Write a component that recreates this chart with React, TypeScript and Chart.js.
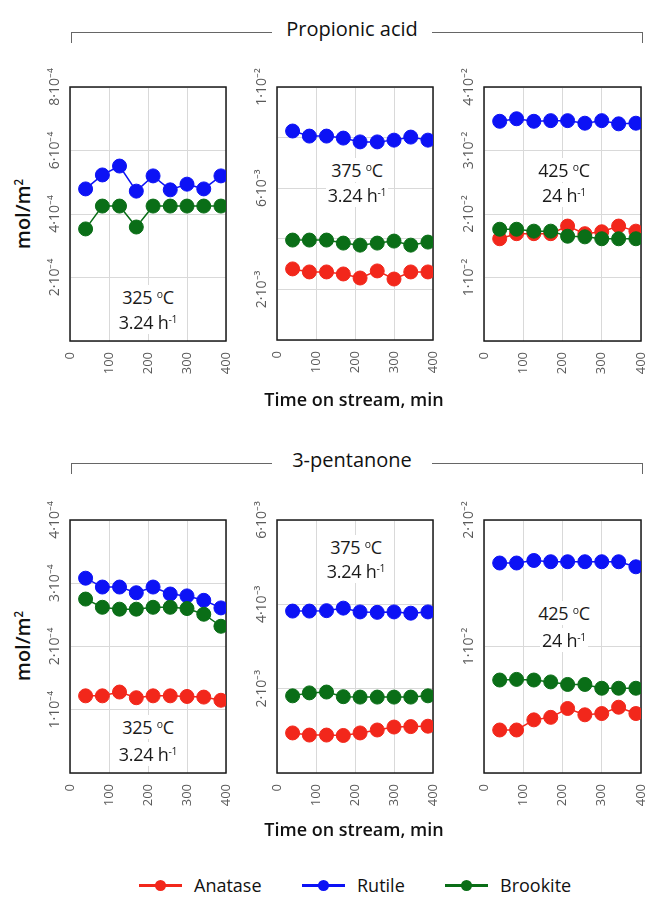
import React, { useEffect, useRef } from 'react';
import { Chart, registerables } from 'chart.js';
Chart.register(...registerables);

// ---------- DATA ----------
const TIMES = [40, 83, 127, 170, 213, 257, 300, 343, 387];
const X_TICKS = [0, 100, 200, 300, 400];
const SERIES = ['Anatase', 'Rutile', 'Brookite'];

// Propionic acid
const PA325_RUTILE = [4.79e-4, 5.23e-4, 5.51e-4, 4.72e-4, 5.2e-4, 4.76e-4, 4.94e-4, 4.79e-4, 5.2e-4];
const PA325_BROOKITE = [3.53e-4, 4.25e-4, 4.25e-4, 3.59e-4, 4.25e-4, 4.25e-4, 4.25e-4, 4.25e-4, 4.25e-4];
const PA375_ANATASE = [2.81e-3, 2.69e-3, 2.69e-3, 2.61e-3, 2.45e-3, 2.73e-3, 2.41e-3, 2.69e-3, 2.69e-3];
const PA375_RUTILE = [8.26e-3, 8.06e-3, 8.06e-3, 7.98e-3, 7.83e-3, 7.83e-3, 7.9e-3, 8.02e-3, 7.9e-3];
const PA375_BROOKITE = [3.95e-3, 3.95e-3, 3.95e-3, 3.83e-3, 3.75e-3, 3.83e-3, 3.91e-3, 3.75e-3, 3.87e-3];
const PA425_ANATASE = [1.61e-2, 1.69e-2, 1.69e-2, 1.69e-2, 1.81e-2, 1.69e-2, 1.72e-2, 1.81e-2, 1.73e-2];
const PA425_RUTILE = [3.46e-2, 3.5e-2, 3.46e-2, 3.47e-2, 3.47e-2, 3.43e-2, 3.47e-2, 3.42e-2, 3.43e-2];
const PA425_BROOKITE = [1.76e-2, 1.76e-2, 1.73e-2, 1.73e-2, 1.65e-2, 1.64e-2, 1.61e-2, 1.61e-2, 1.61e-2];

// 3-pentanone
const PN325_ANATASE = [1.22e-4, 1.22e-4, 1.28e-4, 1.19e-4, 1.22e-4, 1.22e-4, 1.21e-4, 1.2e-4, 1.15e-4];
const PN325_RUTILE = [3.08e-4, 2.94e-4, 2.94e-4, 2.85e-4, 2.94e-4, 2.83e-4, 2.8e-4, 2.73e-4, 2.61e-4];
const PN325_BROOKITE = [2.75e-4, 2.62e-4, 2.59e-4, 2.59e-4, 2.62e-4, 2.62e-4, 2.6e-4, 2.51e-4, 2.32e-4];
const PN375_ANATASE = [0.95e-3, 0.9e-3, 0.9e-3, 0.89e-3, 0.95e-3, 1.02e-3, 1.09e-3, 1.1e-3, 1.11e-3];
const PN375_RUTILE = [3.84e-3, 3.84e-3, 3.85e-3, 3.91e-3, 3.82e-3, 3.81e-3, 3.82e-3, 3.79e-3, 3.82e-3];
const PN375_BROOKITE = [1.83e-3, 1.9e-3, 1.92e-3, 1.81e-3, 1.8e-3, 1.8e-3, 1.8e-3, 1.8e-3, 1.83e-3];
const PN425_ANATASE = [0.34e-2, 0.34e-2, 0.42e-2, 0.44e-2, 0.51e-2, 0.46e-2, 0.47e-2, 0.52e-2, 0.47e-2];
const PN425_RUTILE = [1.66e-2, 1.66e-2, 1.68e-2, 1.67e-2, 1.67e-2, 1.67e-2, 1.67e-2, 1.67e-2, 1.63e-2];
const PN425_BROOKITE = [0.735e-2, 0.74e-2, 0.735e-2, 0.72e-2, 0.7e-2, 0.7e-2, 0.67e-2, 0.67e-2, 0.67e-2];

// y-axis tick labels (index = tick from 0 upward)
const PA325_Y = ['', '2·10⁻⁴', '4·10⁻⁴', '6·10⁻⁴', '8·10⁻⁴'];
const PA375_Y = ['', '2·10⁻³', '', '6·10⁻³', '', '1·10⁻²'];
const PA425_Y = ['', '1·10⁻²', '2·10⁻²', '3·10⁻²', '4·10⁻²'];
const PN325_Y = ['', '1·10⁻⁴', '2·10⁻⁴', '3·10⁻⁴', '4·10⁻⁴'];
const PN375_Y = ['', '2·10⁻³', '4·10⁻³', '6·10⁻³'];
const PN425_Y = ['', '1·10⁻²', '2·10⁻²'];

const TEMPS = ['325', '375', '425'];
const GHSV = ['3.24', '3.24', '24'];
const TITLES = ['Propionic acid', '3-pentanone'];

// ---------- STYLE ----------
const COLORS = ['#f2271b', '#0c12f5', '#0a6e17'];
const ORDER = [1, 2, 0];
const X_TICK_FONT = { family: '"Open Sans"', size: 13 };
const Y_TICK_FONT = { family: '"Open Sans"', size: 14 };
const TICK_COLOR = '#5a5a5a';
const GRID_COLOR = '#d9d9d9';

const PADL = 45, PADT = 25, PADR = 6, PADB = 42;

const framePlugin = {
  id: 'frame',
  beforeDatasetsDraw(chart: any) {
    const { ctx, chartArea } = chart;
    ctx.save();
    ctx.strokeStyle = '#1a1a1a';
    ctx.lineWidth = 1.5;
    ctx.strokeRect(chartArea.left, chartArea.top, chartArea.right - chartArea.left, chartArea.bottom - chartArea.top);
    ctx.restore();
  },
};

type PanelProps = {
  box: { l: number; t: number; w: number; h: number };
  series: (number[] | null)[];
  yMax: number;
  yStep: number;
  yLabels: string[];
};

function Panel({ box, series, yMax, yStep, yLabels }: PanelProps) {
  const ref = useRef<HTMLCanvasElement>(null);
  const cw = PADL + box.w + PADR;
  const ch = PADT + box.h + PADB;
  useEffect(() => {
    const canvas = ref.current!;
    const mctx = canvas.getContext('2d')!;
    mctx.font = `normal ${Y_TICK_FONT.size}px ${Y_TICK_FONT.family}`;
    const widest = Math.max(...yLabels.map((s) => mctx.measureText(s).width));
    const datasets = series
      .map((vals, k) =>
        vals
          ? {
              label: SERIES[k],
              data: vals.map((v, i) => ({ x: TIMES[i], y: v })),
              borderColor: COLORS[k],
              backgroundColor: COLORS[k],
              pointBackgroundColor: COLORS[k],
              pointBorderColor: COLORS[k],
              pointBorderWidth: 1,
              pointRadius: 7,
              borderWidth: 1.5,
              order: ORDER[k],
              tension: 0,
            }
          : null
      )
      .filter(Boolean) as any[];
    const chart = new Chart(canvas, {
      type: 'line',
      data: { datasets },
      options: {
        animation: false,
        responsive: false,
        events: [],
        layout: { padding: { top: PADT, right: PADR, left: 0, bottom: 0 } },
        plugins: { legend: { display: false }, tooltip: { enabled: false } },
        scales: {
          x: {
            type: 'linear',
            min: 0,
            max: 400,
            afterBuildTicks: (s: any) => {
              s.ticks = X_TICKS.map((v) => ({ value: v }));
            },
            afterFit: (s: any) => {
              s.height = PADB;
              s.paddingLeft = 0;
              s.paddingRight = 0;
            },
            ticks: { autoSkip: false, minRotation: 90, maxRotation: 90, padding: 11, color: TICK_COLOR, font: X_TICK_FONT },
            grid: { drawTicks: false, color: GRID_COLOR, lineWidth: 1 },
            border: { display: false },
          },
          y: {
            type: 'linear',
            min: 0,
            max: yMax,
            afterFit: (s: any) => {
              s.width = PADL;
              s.paddingTop = 0;
              s.paddingBottom = 0;
            },
            ticks: {
              stepSize: yStep,
              autoSkip: false,
              minRotation: 90,
              maxRotation: 90,
              crossAlign: 'center',
              padding: 15 - widest / 2,
              color: TICK_COLOR,
              font: Y_TICK_FONT,
              callback: (_v: any, i: number) => yLabels[i] ?? '',
            },
            grid: { drawTicks: false, color: GRID_COLOR, lineWidth: 1 },
            border: { display: false },
          },
        },
      },
      plugins: [framePlugin],
    } as any);
    return () => chart.destroy();
  }, []);
  return (
    <canvas
      ref={ref}
      width={cw}
      height={ch}
      style={{ position: 'absolute', left: box.l - PADL, top: box.t - PADT, width: cw, height: ch }}
    />
  );
}

const Sup = ({ children }: { children: React.ReactNode }) => (
  <span style={{ fontSize: '0.58em', position: 'relative', top: '-0.62em' }}>{children}</span>
);

function Annot({ cx, cy1, cy2, temp, ghsv }: { cx: number; cy1: number; cy2: number; temp: string; ghsv: string }) {
  const line: React.CSSProperties = {
    position: 'absolute',
    left: cx - 60,
    width: 120,
    textAlign: 'center',
    fontSize: 18,
    lineHeight: '22px',
    height: 22,
    color: '#1a1a1a',
    letterSpacing: '-0.3px',
  };
  const bg: React.CSSProperties = { background: 'white', padding: '0 2px' };
  return (
    <>
      <div style={{ ...line, top: cy1 - 11 }}>
        <span style={bg}>
          {temp} <Sup>o</Sup>C
        </span>
      </div>
      <div style={{ ...line, top: cy2 - 11 }}>
        <span style={bg}>
          {ghsv} h<Sup>-1</Sup>
        </span>
      </div>
    </>
  );
}

function Bracket({ y, title }: { y: number; title: string }) {
  return (
    <>
      <div
        style={{
          position: 'absolute',
          left: 71,
          top: y,
          width: 570,
          height: 10,
          borderTop: '1px solid #666',
          borderLeft: '1px solid #666',
          borderRight: '1px solid #666',
        }}
      />
      <div
        style={{
          position: 'absolute',
          left: 272,
          top: y - 18,
          width: 160,
          height: 30,
          lineHeight: '30px',
          textAlign: 'center',
          fontSize: 20,
          color: '#111',
          background: 'white',
        }}
      >
        {title}
      </div>
    </>
  );
}

function YTitle({ cx, cy }: { cx: number; cy: number }) {
  return (
    <div
      style={{
        position: 'absolute',
        left: cx - 50,
        top: cy - 13,
        width: 100,
        height: 26,
        lineHeight: '26px',
        textAlign: 'center',
        fontSize: 20,
        fontWeight: 600,
        color: '#111',
        transform: 'rotate(-90deg)',
      }}
    >
      mol/m<Sup>2</Sup>
    </div>
  );
}

function XTitle({ cy }: { cy: number }) {
  return (
    <div
      style={{
        position: 'absolute',
        left: 244,
        top: cy - 13,
        width: 220,
        height: 26,
        lineHeight: '26px',
        textAlign: 'center',
        fontSize: 18,
        fontWeight: 600,
        color: '#111',
      }}
    >
      Time on stream, min
    </div>
  );
}

function LegendItem({ x, color, label }: { x: number; color: string; label: string }) {
  return (
    <>
      <div style={{ position: 'absolute', left: x, top: 884, width: 43, height: 3, background: color }} />
      <div
        style={{ position: 'absolute', left: x + 16, top: 880, width: 11, height: 11, borderRadius: 6, background: color }}
      />
      <div style={{ position: 'absolute', left: x + 55, top: 873, height: 24, lineHeight: '24px', fontSize: 18, color: '#111' }}>
        {label}
      </div>
    </>
  );
}

export default function App() {
  const boxes = [
    { l: 70, t: 87, w: 158, h: 254 },
    { l: 277, t: 87, w: 158, h: 253 },
    { l: 484, t: 87, w: 159, h: 254 },
    { l: 70, t: 520, w: 158, h: 253 },
    { l: 277, t: 520, w: 158, h: 253 },
    { l: 484, t: 520, w: 159, h: 253 },
  ];
  return (
    <div
      style={{
        position: 'absolute',
        left: 0,
        top: 0,
        width: 649,
        height: 899,
        background: 'white',
        fontFamily: '"Open Sans", sans-serif',
        overflow: 'hidden',
      }}
    >
      <Bracket y={32} title={TITLES[0]} />
      <Bracket y={463} title={TITLES[1]} />
      <YTitle cx={23} cy={214} />
      <YTitle cx={23} cy={646} />
      <Panel box={boxes[0]} series={[null, PA325_RUTILE, PA325_BROOKITE]} yMax={8e-4} yStep={2e-4} yLabels={PA325_Y} />
      <Panel box={boxes[1]} series={[PA375_ANATASE, PA375_RUTILE, PA375_BROOKITE]} yMax={1e-2} yStep={2e-3} yLabels={PA375_Y} />
      <Panel box={boxes[2]} series={[PA425_ANATASE, PA425_RUTILE, PA425_BROOKITE]} yMax={4e-2} yStep={1e-2} yLabels={PA425_Y} />
      <Panel box={boxes[3]} series={[PN325_ANATASE, PN325_RUTILE, PN325_BROOKITE]} yMax={4e-4} yStep={1e-4} yLabels={PN325_Y} />
      <Panel box={boxes[4]} series={[PN375_ANATASE, PN375_RUTILE, PN375_BROOKITE]} yMax={6e-3} yStep={2e-3} yLabels={PN375_Y} />
      <Panel box={boxes[5]} series={[PN425_ANATASE, PN425_RUTILE, PN425_BROOKITE]} yMax={2e-2} yStep={1e-2} yLabels={PN425_Y} />
      <Annot cx={148} cy1={297} cy2={322} temp={TEMPS[0]} ghsv={GHSV[0]} />
      <Annot cx={357} cy1={170} cy2={195} temp={TEMPS[1]} ghsv={GHSV[1]} />
      <Annot cx={564} cy1={170} cy2={195} temp={TEMPS[2]} ghsv={GHSV[2]} />
      <Annot cx={148} cy1={727} cy2={754} temp={TEMPS[0]} ghsv={GHSV[0]} />
      <Annot cx={356} cy1={547} cy2={571} temp={TEMPS[1]} ghsv={GHSV[1]} />
      <Annot cx={564} cy1={613} cy2={640} temp={TEMPS[2]} ghsv={GHSV[2]} />
      <XTitle cy={399} />
      <XTitle cy={829} />
      <LegendItem x={139} color={COLORS[0]} label={SERIES[0]} />
      <LegendItem x={302} color={COLORS[1]} label={SERIES[1]} />
      <LegendItem x={445} color={COLORS[2]} label={SERIES[2]} />
    </div>
  );
}
